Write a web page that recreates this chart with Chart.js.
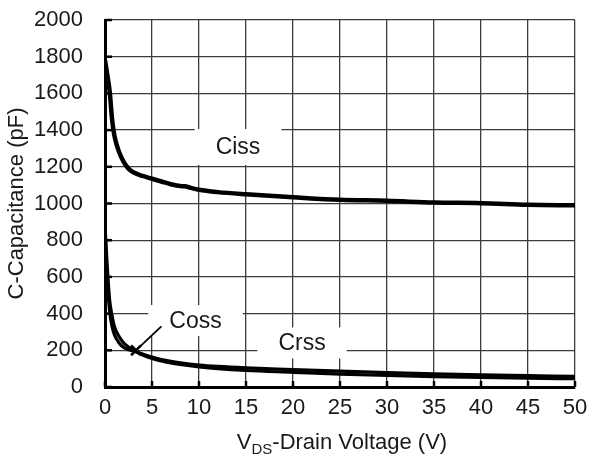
<!DOCTYPE html>
<html>
<head>
<meta charset="utf-8">
<script src="https://cdn.jsdelivr.net/npm/chart.js@4/dist/chart.umd.min.js"></script>
<style>
html,body{margin:0;padding:0;background:#fff;}
#wrap{width:592px;height:460px;}
</style>
</head>
<body>
<div id="wrap"><canvas id="c" width="592" height="460"></canvas></div>
<script>
// ---- data ----
const cissV = [0,0.25,0.5,0.75,1,1.5,2,2.5,3,4,5,6,7,8,8.5,9,10,12,15,20,25,30,35,40,45,50];
const cissC = [1780,1700,1610,1460,1370,1280,1225,1190,1170,1150,1135,1120,1105,1095,1094,1087,1075,1062,1050,1034,1020,1015,1005,1002,993,990];
const cossV = [0,0.25,0.5,0.75,1,1.5,2,2.5,3,3.5,4,5,6,7,8,10,12,15,20,25,30,35,40,45,50];
const cossC = [880,650,470,390,330,275,240,218,203,190,180,163,150,140,132,120,112,104,95,86,78,71,66,62,58];
const crssV = [0,0.25,0.5,0.75,1,1.5,2,2.5,3,3.5,4,5,6,7,8,10,12,15,20,25,30,35,40,45,50];
const crssC = [850,570,410,330,285,240,215,203,197,186,174,155,142,131,123,110,100,90,80,70,63,57,52,48,45];
const markerV = [3.3];
const markerC = [200];
const pointerV = [3.4, 6.0];
const pointerC = [205, 330];
const xTicks = [0,5,10,15,20,25,30,35,40,45,50];
const yTicks = [0,200,400,600,800,1000,1200,1400,1600,1800,2000];
const curveLabels = ['Ciss','Coss','Crss'];
const labelV = [14.15, 9.63, 20.96];
const labelC = [1308, 362, 240];

const pts = (xs, ys) => xs.map((x,i)=>({x:x, y:ys[i]}));
const FONT = "'Liberation Sans', Arial, sans-serif";

const decor = {
  id:'decor',
  beforeDatasetsDraw(chart){
    const ctx = chart.ctx, xs = chart.scales.x, ys = chart.scales.y;
    ctx.save();
    ctx.strokeStyle = '#000'; ctx.lineWidth = 2.5;
    xTicks.forEach(v=>{
      const px = xs.getPixelForValue(v);
      ctx.beginPath(); ctx.moveTo(px, ys.bottom); ctx.lineTo(px, ys.bottom-6); ctx.stroke();
    });
    yTicks.forEach(v=>{
      const py = ys.getPixelForValue(v);
      ctx.beginPath(); ctx.moveTo(xs.left, py); ctx.lineTo(xs.left+7, py); ctx.stroke();
    });
    ctx.font = '23px ' + FONT;
    ctx.textAlign = 'center'; ctx.textBaseline = 'middle';
    curveLabels.forEach((t,i)=>{
      const px = xs.getPixelForValue(labelV[i]);
      const py = ys.getPixelForValue(labelC[i]);
      const w = ctx.measureText(t).width + 42;
      const h = i===0 ? 36 : 31;
      ctx.fillStyle = '#fff';
      ctx.fillRect(px - w/2, py - h/2, w, h);
      ctx.fillStyle = '#1a1a1a';
      ctx.fillText(t, px, py+1);
    });
    ctx.restore();
  },
  afterDraw(chart){
    const ctx = chart.ctx, xs = chart.scales.x;
    ctx.save();
    ctx.fillStyle = '#1a1a1a';
    ctx.textBaseline = 'alphabetic'; ctx.textAlign = 'left';
    const big = '22px ' + FONT, small = '15px ' + FONT;
    ctx.font = big; const w1 = ctx.measureText('V').width;
    ctx.font = small; const w2 = ctx.measureText('DS').width;
    ctx.font = big; const w3 = ctx.measureText('-Drain Voltage (V)').width;
    const total = w1 + w2 + w3;
    let x0 = (xs.left + xs.right)/2 - total/2 + 2;
    const base = 449;
    ctx.font = big; ctx.fillText('V', x0, base);
    ctx.font = small; ctx.fillText('DS', x0 + w1, base + 5);
    ctx.font = big; ctx.fillText('-Drain Voltage (V)', x0 + w1 + w2, base);
    ctx.restore();
  }
};

new Chart(document.getElementById('c'), {
  type: 'line',
  data: {
    datasets: [
      {label:'Ciss', data: pts(cissV, cissC), borderColor:'#000', borderWidth:4.5, pointRadius:0, cubicInterpolationMode:'monotone', fill:false},
      {label:'Coss', data: pts(cossV, cossC), borderColor:'#000', borderWidth:3.2, pointRadius:0, cubicInterpolationMode:'monotone', fill:false},
      {label:'Crss', data: pts(crssV, crssC), borderColor:'#000', borderWidth:3.2, pointRadius:0, cubicInterpolationMode:'monotone', fill:false},
      {label:'pointer', data: pts(pointerV, pointerC), borderColor:'#000', borderWidth:1.8, pointRadius:0, fill:false},
      {label:'marker', data: pts(markerV, markerC), showLine:false, pointStyle:'crossRot', pointRadius:7, borderColor:'#000', pointBorderWidth:2.5, borderWidth:2.5}
    ]
  },
  options: {
    responsive:false, animation:false, devicePixelRatio:1,
    layout:{padding:{top:20, right:17, left:0, bottom:0}},
    plugins:{legend:{display:false}, tooltip:{enabled:false}},
    scales:{
      x:{
        type:'linear', min:0, max:50,
        afterBuildTicks(s){ s.ticks = xTicks.map(v=>({value:v})); },
        afterFit(s){ s.height = 73; s.paddingLeft = 0; s.paddingRight = 0; },
        ticks:{font:{family:FONT, size:22}, color:'#1a1a1a', padding:8, maxRotation:0, autoSkip:false},
        grid:{color:'#3c3c3c', lineWidth:1.3, drawTicks:false},
        border:{display:true, color:'#000', width:3}
      },
      y:{
        type:'linear', min:0, max:2000,
        afterBuildTicks(s){ s.ticks = yTicks.map(v=>({value:v})); },
        afterFit(s){ s.width = 105; s.paddingTop = 0; s.paddingBottom = 0; },
        ticks:{font:{family:FONT, size:22}, color:'#1a1a1a', padding:22, autoSkip:false, callback:(v)=>String(v)},
        grid:{color:'#3c3c3c', lineWidth:1.3, drawTicks:false},
        border:{display:true, color:'#000', width:3},
        title:{display:true, text:'C-Capacitance (pF)', font:{family:FONT, size:22}, color:'#1a1a1a', padding:{top:4, bottom:0}}
      }
    }
  },
  plugins:[decor]
});
</script>
</body>
</html>
